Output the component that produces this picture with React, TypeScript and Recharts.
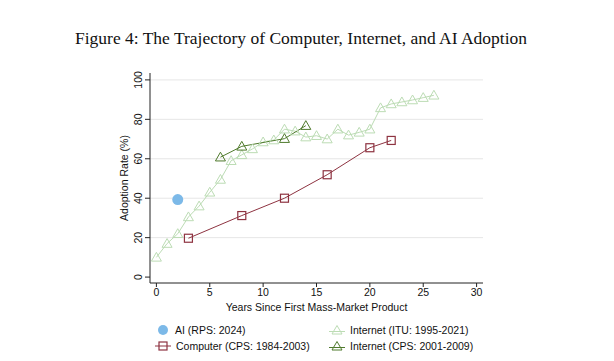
import React from "react";
import {
  ComposedChart,
  Line,
  Scatter,
  XAxis,
  YAxis,
  ReferenceLine,
} from "recharts";

const ituYears = [0,1,2,3,4,5,6,7,8,9,10,11,12,13,14,15,16,17,18,19,20,21,22,23,24,25,26];
const ituValues = [10,17,22,30.5,36,43,49.5,59,62,65,68.5,69.5,75,74,71,71.7,70,75,72,73.4,75,85.8,87.8,88.8,89.8,91,92.2];
const cpsInternetYears = [6, 8, 12, 14];
const cpsInternetValues = [60.8, 66.3, 70.2, 76.8];
const computerYears = [3, 8, 12, 16, 20, 22];
const computerValues = [19.7, 31.2, 40, 51.9, 65.6, 69.3];
const aiYears = [2];
const aiValues = [39.3];
const xTicks = [0, 5, 10, 15, 20, 25, 30];
const yTicks = [0, 20, 40, 60, 80, 100];
const gridLines = [20, 40, 60, 80, 100];

const ituData = ituYears.map((x, i) => ({ x, y: ituValues[i] }));
const cpsData = cpsInternetYears.map((x, i) => ({ x, y: cpsInternetValues[i] }));
const compData = computerYears.map((x, i) => ({ x, y: computerValues[i] }));
const aiData = aiYears.map((x, i) => ({ x, y: aiValues[i] }));

const C_ITU = "#bcdcb4";
const C_CPS = "#4f7a2c";
const C_COMP = "#8e3341";
const C_AI = "#7cb9e8";

const sans = "Liberation Sans, Arial, sans-serif";
const FS = 10.5;

const tri = (color: string) => (props: any) => {
  const { cx, cy, key } = props;
  if (cx == null || cy == null) return null;
  const s = 5;
  return (
    <path
      key={key}
      d={`M${cx},${cy - s} L${cx + s},${cy + s * 0.75} L${cx - s},${cy + s * 0.75} Z`}
      fill="none"
      stroke={color}
      strokeWidth={1}
    />
  );
};

const sq = (color: string) => (props: any) => {
  const { cx, cy, key } = props;
  if (cx == null || cy == null) return null;
  const s = 4;
  return (
    <rect key={key} x={cx - s} y={cy - s} width={2 * s} height={2 * s} fill="none" stroke={color} strokeWidth={1.2} />
  );
};

const circ = (props: any) => {
  const { cx, cy } = props;
  return <circle cx={cx} cy={cy} r={5.5} fill={C_AI} />;
};

const YTick = (props: any) => {
  const { x, y, payload } = props;
  return (
    <text
      x={x}
      y={y}
      transform={`rotate(-90 ${x} ${y})`}
      textAnchor="middle"
      dy={-0.5}
      fontSize={FS}
      fontFamily={sans}
      fill="#111"
    >
      {payload.value}
    </text>
  );
};

const LegendIcon = ({ kind }: { kind: string }) => {
  if (kind === "ai") return <svg width={14} height={12}><circle cx={7} cy={6} r={5} fill={C_AI} /></svg>;
  if (kind === "comp")
    return (
      <svg width={16} height={12}>
        <line x1={0} y1={6} x2={16} y2={6} stroke={C_COMP} strokeWidth={1} />
        <rect x={4} y={2} width={8} height={8} fill="none" stroke={C_COMP} strokeWidth={1.2} />
      </svg>
    );
  const color = kind === "itu" ? C_ITU : C_CPS;
  return (
    <svg width={16} height={12}>
      <line x1={0} y1={7.5} x2={16} y2={7.5} stroke={color} strokeWidth={1} />
      <path d="M8,1.5 L13,10 L3,10 Z" fill="none" stroke={color} strokeWidth={1} />
    </svg>
  );
};

const legendItems = [
  { kind: "ai", label: "AI (RPS: 2024)", left: 156, top: 324 },
  { kind: "itu", label: "Internet (ITU: 1995-2021)", left: 329, top: 324 },
  { kind: "comp", label: "Computer (CPS: 1984-2003)", left: 155, top: 340 },
  { kind: "cps", label: "Internet (CPS: 2001-2009)", left: 329, top: 340 },
];

export default function App() {
  return (
    <div style={{ position: "absolute", left: 0, top: 0, width: 614, height: 361, background: "#fff" }}>
      <svg style={{ position: "absolute", left: 0, top: 0 }} width={614} height={60}>
        <text
          x={75}
          y={44}
          textLength={452}
          lengthAdjust="spacingAndGlyphs"
          fontFamily="Liberation Serif, Times New Roman, serif"
          fontSize={16.5}
          fill="#111"
        >
          Figure 4: The Trajectory of Computer, Internet, and AI Adoption
        </text>
      </svg>
      <div style={{ position: "absolute", left: 0, top: 0 }}>
        <ComposedChart
          width={614}
          height={320}
          margin={{ top: 73, right: 131, bottom: 0, left: 100 }}
        >
          {gridLines.map((g) => (
            <ReferenceLine key={g} y={g} stroke="#e6e6e6" strokeWidth={1} />
          ))}
          <XAxis
            type="number"
            dataKey="x"
            domain={[-0.6, 30.6]}
            ticks={xTicks}
            allowDataOverflow
            height={37}
            tick={{ fontSize: FS, fill: "#111", fontFamily: sans }}
            tickSize={4}
            axisLine={{ stroke: "#222" }}
            tickLine={{ stroke: "#222" }}
            label={{ value: "Years Since First Mass-Market Product", position: "insideBottom", offset: 9, fontSize: FS, fill: "#111", fontFamily: sans }}
          />
          <YAxis
            type="number"
            dataKey="y"
            domain={[-3, 103.5]}
            ticks={yTicks}
            allowDataOverflow
            width={50}
            tick={<YTick />}
            tickSize={5}
            axisLine={{ stroke: "#222" }}
            tickLine={{ stroke: "#222" }}
            label={{ value: "Adoption Rate (%)", angle: -90, position: "insideLeft", offset: 24.5, fontSize: FS, fill: "#111", fontFamily: sans, style: { textAnchor: "middle" } }}
          />
          <Line
            data={ituData}
            dataKey="y"
            stroke={C_ITU}
            strokeWidth={1}
            dot={tri(C_ITU)}
            activeDot={false}
            isAnimationActive={false}
          />
          <Line
            data={compData}
            dataKey="y"
            stroke={C_COMP}
            strokeWidth={1}
            dot={sq(C_COMP)}
            activeDot={false}
            isAnimationActive={false}
          />
          <Line
            data={cpsData}
            dataKey="y"
            stroke={C_CPS}
            strokeWidth={1}
            dot={tri(C_CPS)}
            activeDot={false}
            isAnimationActive={false}
          />
          <Scatter data={aiData} dataKey="y" shape={circ} isAnimationActive={false} />
        </ComposedChart>
      </div>
      {legendItems.map((it) => (
        <div
          key={it.label}
          style={{
            position: "absolute",
            left: it.left,
            top: it.top,
            display: "flex",
            alignItems: "center",
            gap: 5,
            fontFamily: sans,
            fontSize: FS,
            color: "#111",
            whiteSpace: "nowrap",
          }}
        >
          <LegendIcon kind={it.kind} />
          <span>{it.label}</span>
        </div>
      ))}
    </div>
  );
}
